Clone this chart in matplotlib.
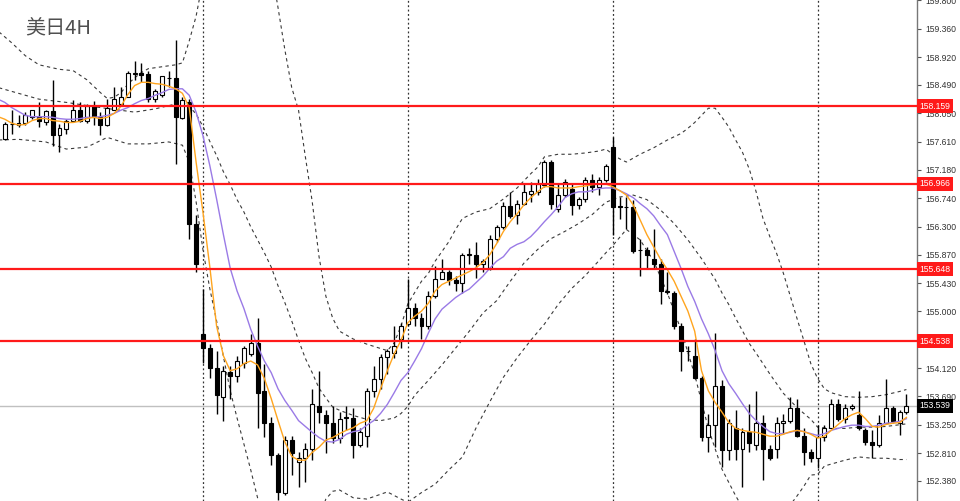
import numpy as np
import matplotlib
matplotlib.use('Agg')
import matplotlib.pyplot as plt
import matplotlib.transforms as mtransforms

# 4H candles, index 1..133 (30 candles per week)
opens = [157.65, 157.89, 157.87, 157.90, 157.99, 157.99, 157.91, 158.08, 157.71, 157.81,
         157.94, 158.10, 157.94, 158.17, 157.99, 157.87, 158.11, 158.19, 158.31, 158.66,
         158.67, 158.66, 158.27, 158.33, 158.60, 158.59, 157.98, 158.22, 156.35, 154.65,
         154.43, 154.12, 153.67, 154.06, 154.00, 154.20, 154.34, 154.51, 153.77, 153.27,
         152.78, 152.19, 153.01, 152.67, 152.73, 152.88, 153.54, 153.39, 153.28, 153.04,
         153.36, 153.35, 152.93, 153.08, 153.77, 153.96, 154.29, 154.36, 154.57, 154.80,
         155.05, 154.89, 154.77, 155.23, 155.50, 155.60, 155.48, 155.43, 155.86, 155.87,
         155.72, 155.66, 156.12, 156.29, 156.62, 156.49, 156.66, 156.81, 156.84, 156.95,
         157.30, 156.58, 156.79, 156.89, 156.64, 156.73, 157.02, 156.92, 157.02, 157.53,
         156.62, 156.61, 156.61, 155.95, 155.95, 155.81, 155.72, 155.31, 155.28, 154.77,
         154.39, 154.31, 153.97, 153.05, 153.24, 153.85, 152.85, 153.20, 152.88, 153.13,
         152.93, 153.28, 152.88, 152.88, 153.27, 153.30, 153.51, 153.08, 152.82, 152.74,
         153.05, 153.20, 153.57, 153.34, 153.50, 153.39, 153.16, 152.98, 152.93, 153.28,
         153.51, 153.27, 153.44]
highs = [157.91, 158.11, 158.02, 158.07, 158.11, 158.22, 158.10, 158.57, 157.88, 157.96,
         158.25, 158.22, 158.20, 158.24, 158.07, 158.27, 158.45, 158.45, 158.71, 158.86,
         158.83, 158.71, 158.43, 158.63, 158.71, 159.19, 158.30, 158.27, 156.49, 155.34,
         154.49, 154.39, 154.16, 154.16, 154.31, 154.46, 154.65, 154.89, 154.19, 153.36,
         152.81, 153.08, 153.08, 152.82, 152.96, 153.80, 154.08, 153.47, 153.54, 153.44,
         153.54, 153.51, 153.19, 153.82, 154.16, 154.34, 154.42, 154.77, 154.82, 155.50,
         155.12, 154.97, 155.31, 155.69, 155.80, 155.64, 155.54, 155.89, 155.97, 156.07,
         155.81, 156.18, 156.33, 156.69, 156.84, 156.72, 156.96, 156.99, 157.04, 157.33,
         157.33, 156.96, 157.04, 156.96, 156.76, 157.07, 157.12, 157.07, 157.27, 157.68,
         156.76, 156.76, 156.72, 156.12, 155.99, 156.27, 155.80, 155.61, 155.31, 154.82,
         154.46, 154.57, 154.00, 153.42, 154.66, 153.93, 153.34, 153.47, 153.19, 153.57,
         153.77, 153.39, 152.93, 153.36, 153.42, 153.67, 153.65, 153.19, 152.88, 153.24,
         153.24, 153.65, 153.65, 153.57, 153.57, 153.77, 153.19, 153.16, 153.39, 153.96,
         153.54, 153.47, 153.72]
lows = [157.64, 157.73, 157.84, 157.87, 157.96, 157.84, 157.87, 157.55, 157.45, 157.73,
        157.91, 157.91, 157.90, 157.87, 157.71, 157.85, 158.10, 158.17, 158.30, 158.57,
        158.53, 158.22, 158.22, 158.30, 158.45, 157.27, 157.96, 156.12, 155.61, 154.20,
        153.97, 153.42, 153.31, 153.65, 153.90, 154.12, 154.31, 153.20, 153.05, 152.62,
        152.09, 152.16, 152.47, 152.29, 152.36, 152.70, 153.27, 152.81, 152.96, 152.96,
        153.16, 152.73, 152.90, 152.90, 153.67, 153.80, 154.03, 154.28, 154.43, 154.77,
        154.77, 154.57, 154.72, 155.20, 155.49, 155.41, 155.31, 155.28, 155.72, 155.51,
        155.61, 155.64, 156.07, 156.26, 156.43, 156.35, 156.64, 156.69, 156.79, 156.92,
        156.58, 156.53, 156.76, 156.49, 156.58, 156.69, 156.84, 156.79, 156.99, 156.18,
        156.42, 156.27, 155.89, 155.54, 155.66, 155.66, 155.11, 155.26, 154.72, 154.08,
        154.23, 153.96, 153.00, 152.82, 152.90, 152.59, 152.70, 152.70, 152.29, 152.82,
        152.85, 152.39, 152.70, 152.73, 153.11, 153.27, 153.05, 152.62, 152.67, 152.58,
        153.00, 153.19, 153.31, 153.28, 153.47, 153.16, 152.93, 152.73, 152.90, 153.27,
        153.27, 153.09, 153.42]
closes = [157.88, 157.88, 157.90, 158.02, 158.10, 157.93, 158.08, 157.71, 157.82, 157.94,
          158.11, 157.93, 158.17, 157.99, 157.87, 158.13, 158.27, 158.31, 158.68, 158.67,
          158.65, 158.27, 158.39, 158.62, 158.59, 157.99, 158.25, 156.35, 155.72, 154.43,
          154.12, 153.70, 154.08, 154.00, 154.23, 154.43, 154.51, 153.74, 153.27, 152.78,
          152.21, 153.01, 152.81, 152.73, 152.88, 153.57, 153.44, 153.28, 153.04, 153.34,
          153.35, 152.93, 153.13, 153.77, 153.96, 154.29, 154.39, 154.46, 154.77, 155.05,
          154.89, 154.77, 155.23, 155.50, 155.60, 155.48, 155.43, 155.86, 155.88, 155.72,
          155.78, 156.12, 156.29, 156.62, 156.47, 156.66, 156.84, 156.86, 156.96, 157.30,
          156.66, 156.79, 156.99, 156.64, 156.73, 157.02, 156.92, 157.02, 157.24, 156.61,
          156.60, 156.60, 155.92, 155.94, 155.87, 155.72, 155.31, 155.30, 154.77, 154.39,
          154.38, 153.97, 153.05, 153.24, 153.85, 152.85, 153.28, 152.88, 153.13, 152.96,
          153.28, 152.88, 152.74, 153.28, 153.31, 153.51, 153.08, 152.82, 152.74, 153.05,
          153.20, 153.57, 153.34, 153.51, 153.54, 153.19, 152.98, 152.93, 153.28, 153.51,
          153.30, 153.44, 153.54]

# moving averages, index 0..133
ma_fast = [158.00, 157.96, 157.90, 157.87, 157.88, 157.94, 157.97, 157.97, 157.94, 157.93,
           157.91, 157.91, 157.93, 157.97, 157.99, 157.97, 157.99, 158.05, 158.16, 158.34,
           158.48, 158.53, 158.53, 158.51, 158.50, 158.47, 158.43, 158.36, 158.14, 157.30,
           156.53, 155.69, 154.77, 154.31, 154.08, 154.11, 154.19, 154.23, 154.17, 153.96,
           153.65, 153.31, 152.98, 152.76, 152.70, 152.70, 152.82, 152.90, 153.01, 153.05,
           153.11, 153.16, 153.20, 153.27, 153.31, 153.50, 153.80, 154.08, 154.34, 154.55,
           154.82, 154.92, 155.00, 155.12, 155.31, 155.41, 155.46, 155.51, 155.56, 155.61,
           155.67, 155.75, 155.87, 156.04, 156.23, 156.38, 156.50, 156.64, 156.75, 156.84,
           156.92, 156.92, 156.90, 156.90, 156.90, 156.92, 156.93, 156.95, 156.96, 156.96,
           156.92, 156.86, 156.79, 156.64, 156.41, 156.18, 155.99, 155.80, 155.64, 155.46,
           155.23, 155.00, 154.69, 154.08, 153.77, 153.59, 153.44, 153.28, 153.19, 153.16,
           153.14, 153.13, 153.10, 153.07, 153.07, 153.10, 153.14, 153.16, 153.14, 153.10,
           153.04, 153.07, 153.16, 153.25, 153.34, 153.40, 153.44, 153.34, 153.22, 153.21,
           153.25, 153.27, 153.28, 153.36]
ma_slow = [158.27, 158.22, 158.14, 158.08, 158.02, 158.00, 158.00, 158.00, 157.99, 157.97,
           157.96, 157.96, 157.97, 157.99, 157.99, 158.00, 158.02, 158.05, 158.10, 158.14,
           158.20, 158.25, 158.28, 158.33, 158.37, 158.42, 158.43, 158.43, 158.33, 158.07,
           157.71, 157.25, 156.73, 156.18, 155.66, 155.31, 155.04, 154.72, 154.46, 154.23,
           154.05, 153.80, 153.62, 153.47, 153.31, 153.22, 153.13, 153.05, 152.99, 152.98,
           153.02, 153.10, 153.14, 153.16, 153.24, 153.31, 153.42, 153.56, 153.74, 153.93,
           154.05, 154.23, 154.42, 154.66, 154.88, 155.03, 155.12, 155.21, 155.28, 155.34,
           155.44, 155.54, 155.66, 155.77, 155.84, 155.97, 156.03, 156.07, 156.15, 156.26,
           156.38, 156.49, 156.61, 156.75, 156.81, 156.84, 156.84, 156.86, 156.89, 156.90,
           156.90, 156.86, 156.81, 156.75, 156.66, 156.58, 156.47, 156.32, 156.18, 155.92,
           155.66, 155.38, 155.15, 154.88, 154.65, 154.39, 154.08, 153.88, 153.73, 153.57,
           153.42, 153.31, 153.22, 153.14, 153.11, 153.11, 153.13, 153.16, 153.14, 153.11,
           153.08, 153.11, 153.16, 153.19, 153.22, 153.24, 153.24, 153.22, 153.22, 153.24,
           153.27, 153.28, 153.30, 153.34]

# bollinger bands read at sample candles
bb_up_idx = [0, 2, 4, 6, 9, 11, 13, 15, 16, 17, 18, 19, 20, 21, 22, 24, 26, 27, 28, 29, 30,
             40, 41, 42, 43, 44, 45, 46, 47, 48, 49, 50, 52, 54, 57, 58, 59, 60, 62, 63, 64,
             66, 67, 68, 70, 72, 74, 76, 78, 79, 80, 82, 84, 86, 88, 89, 90, 91, 92, 93, 94,
             96, 98, 100, 101, 102, 103, 104, 105, 106, 107, 108, 109, 110, 111, 112, 113,
             114, 115, 116, 117, 118, 119, 120, 121, 122, 124, 126, 128, 130, 132, 133]
bb_up = [159.32, 159.14, 158.94, 158.80, 158.73, 158.71, 158.57, 158.37, 158.28, 158.30,
         158.37, 158.50, 158.60, 158.68, 158.74, 158.77, 158.80, 158.83, 159.17, 159.55,
         160.10, 160.30, 159.68, 159.03, 158.45, 158.10, 157.38, 156.69, 155.84, 155.23,
         154.89, 154.69, 154.57, 154.49, 154.39, 154.51, 154.77, 155.11, 155.46, 155.58,
         155.77, 156.07, 156.26, 156.43, 156.53, 156.58, 156.73, 156.90, 157.12, 157.22,
         157.38, 157.42, 157.42, 157.44, 157.47, 157.50, 157.42, 157.35, 157.30, 157.36,
         157.42, 157.52, 157.64, 157.74, 157.82, 157.91, 158.02, 158.13, 158.13, 157.99,
         157.84, 157.64, 157.45, 157.19, 156.84, 156.43, 156.15, 155.89, 155.58, 155.23,
         154.88, 154.54, 154.19, 153.96, 153.80, 153.74, 153.68, 153.67, 153.68, 153.71,
         153.76, 153.79]
bb_mid_idx = [0, 3, 6, 10, 15, 20, 23, 25, 27, 28, 29, 30, 31, 32, 33, 34, 35, 36, 37, 38,
              39, 40, 41, 42, 43, 44, 45, 46, 47, 48, 49, 50, 52, 54, 56, 58, 59, 60, 61, 63,
              65, 67, 69, 71, 73, 75, 77, 79, 81, 83, 85, 87, 89, 91, 93, 95, 97, 99, 101,
              103, 105, 106, 107, 108, 110, 111, 113, 115, 117, 119, 120, 122, 124, 126, 128,
              130, 133]
bb_mid = [158.45, 158.36, 158.27, 158.22, 158.14, 158.07, 158.12, 158.17, 158.22, 158.16,
          158.04, 157.85, 157.62, 157.40, 157.15, 156.95, 156.72, 156.53, 156.30, 156.10,
          155.90, 155.68, 155.39, 155.13, 154.85, 154.55, 154.27, 154.05, 153.81, 153.66,
          153.52, 153.47, 153.39, 153.33, 153.31, 153.35, 153.42, 153.53, 153.70, 153.93,
          154.17, 154.43, 154.69, 154.97, 155.16, 155.46, 155.74, 155.95, 156.12, 156.23,
          156.35, 156.49, 156.68, 156.76, 156.79, 156.72, 156.56, 156.35, 156.10, 155.81,
          155.49, 155.28, 155.10, 154.89, 154.50, 154.35, 154.03, 153.73, 153.51, 153.33,
          153.21, 153.19, 153.19, 153.21, 153.21, 153.22, 153.26]
bb_lo_idx = [0, 3, 7, 10, 13, 16, 19, 22, 25, 27, 28, 29, 30, 31, 32, 33, 34, 35, 36, 37,
             38, 39, 40, 44, 46, 47, 48, 49, 50, 52, 54, 57, 59, 60, 62, 64, 66, 68, 70, 72,
             74, 76, 78, 80, 82, 84, 86, 88, 89, 90, 92, 94, 96, 98, 100, 102, 104, 106, 108,
             110, 112, 113, 114, 115, 116, 117, 118, 119, 120, 121, 122, 124, 126, 128, 130,
             132, 133]
bb_lo = [157.64, 157.65, 157.61, 157.50, 157.53, 157.68, 157.58, 157.58, 157.61, 157.56,
         157.30, 156.69, 155.95, 155.35, 154.85, 154.30, 153.77, 153.35, 152.95, 152.55,
         152.12, 151.80, 151.55, 151.04, 151.32, 151.82, 152.10, 152.22, 152.24, 152.12,
         152.10, 152.21, 152.10, 152.05, 152.20, 152.33, 152.55, 152.75, 153.20, 153.60,
         153.98, 154.28, 154.55, 154.80, 155.10, 155.35, 155.55, 155.78, 155.90, 156.01,
         156.26, 156.10, 155.77, 155.28, 154.71, 154.02, 153.19, 152.56, 152.15, 151.79,
         151.98, 151.92, 151.87, 151.87, 152.01, 152.15, 152.30, 152.47, 152.48, 152.61,
         152.64, 152.70, 152.75, 152.73, 152.73, 152.71, 152.71]

levels = [158.159, 156.966, 155.648, 154.538]
last_price = 153.539
week_starts = [30, 60, 90, 120]
yticks = [159.800, 159.360, 158.920, 158.490, 158.050, 157.610, 157.180, 156.740, 156.300,
          155.870, 155.430, 155.000, 154.560, 154.120, 153.690, 153.250, 152.810, 152.380]
hidden_ticks = [154.560]  # covered by the 154.538 marker in the original

fig = plt.figure(figsize=(9.6, 5.01), dpi=100)
ax = fig.add_axes([0, 0, 917 / 960, 1])
ax.set_xlim(0.29, 134.55)
ax.set_ylim(152.07, 159.754)

idx = np.arange(1, len(closes) + 1)
o = np.array(opens)
c = np.array(closes)
h = np.array(highs)
l = np.array(lows)

# wicks and bodies
ax.vlines(idx, l, h, color='black', lw=1, zorder=3)
bottom = np.minimum(o, c)
height = np.abs(c - o)
colors = np.where(c >= o, 'white', 'black')
ax.bar(idx, height, bottom=bottom, width=0.58, color=colors, edgecolor='black', lw=0.8, zorder=4)

# bollinger bands
band_style = dict(color='#3a3a3a', lw=0.8, ls=(0, (3, 3)), zorder=2)
ax.plot(bb_up_idx, bb_up, **band_style)
ax.plot(bb_mid_idx, bb_mid, **band_style)
ax.plot(bb_lo_idx, bb_lo, **band_style)

# moving averages
ma_idx = np.arange(len(ma_fast))
ax.plot(ma_idx, ma_slow, color='#9a7ae6', lw=1, zorder=5)
ax.plot(ma_idx, ma_fast, color='#ffa51f', lw=1, zorder=5)

# week separators
for w in week_starts:
    ax.axvline(w, color='#333333', lw=0.9, ls=(0, (1.5, 2)), zorder=1)

# current price line
ax.axhline(last_price, color='#c0c0c0', lw=1, zorder=1)

# support / resistance
for lv in levels:
    ax.axhline(lv, color='#ff1a1a', lw=1.6, zorder=6)

# right price axis
for s in ['left', 'top', 'bottom']:
    ax.spines[s].set_visible(False)
ax.spines['right'].set_color('#777777')
ax.spines['right'].set_linewidth(1)
ax.set_xticks([])
ax.yaxis.tick_right()
ax.set_yticks(yticks)
ax.set_yticklabels(['' if t in hidden_ticks else '%.3f' % t for t in yticks])
ax.tick_params(axis='y', direction='out', length=3, width=0.8, color='#555555',
               labelsize=6.2, labelcolor='#333333', pad=3)
for lab in ax.get_yticklabels():
    lab.set_family('Liberation Sans')

trans = mtransforms.blended_transform_factory(ax.transAxes, ax.transData)
for lv in levels:
    ax.text(1.003, lv, '%.3f' % lv, transform=trans, ha='left', va='center', fontsize=6.2,
            family='Liberation Sans', color='white', zorder=10, clip_on=False,
            bbox=dict(boxstyle='square,pad=0.3', facecolor='#ff1a1a', edgecolor='none'))
ax.text(1.003, last_price, '%.3f' % last_price, transform=trans, ha='left', va='center',
        fontsize=6.2, family='Liberation Sans', color='white', zorder=10, clip_on=False,
        bbox=dict(boxstyle='square,pad=0.3', facecolor='black', edgecolor='none'))

fig.text(25 / 960, 1 - 28 / 501, '美日4H', fontsize=14.5, color='#505050', va='center',
         ha='left', family=['Noto Sans CJK SC', 'DejaVu Sans'])

fig.savefig('out.png', dpi=100)
